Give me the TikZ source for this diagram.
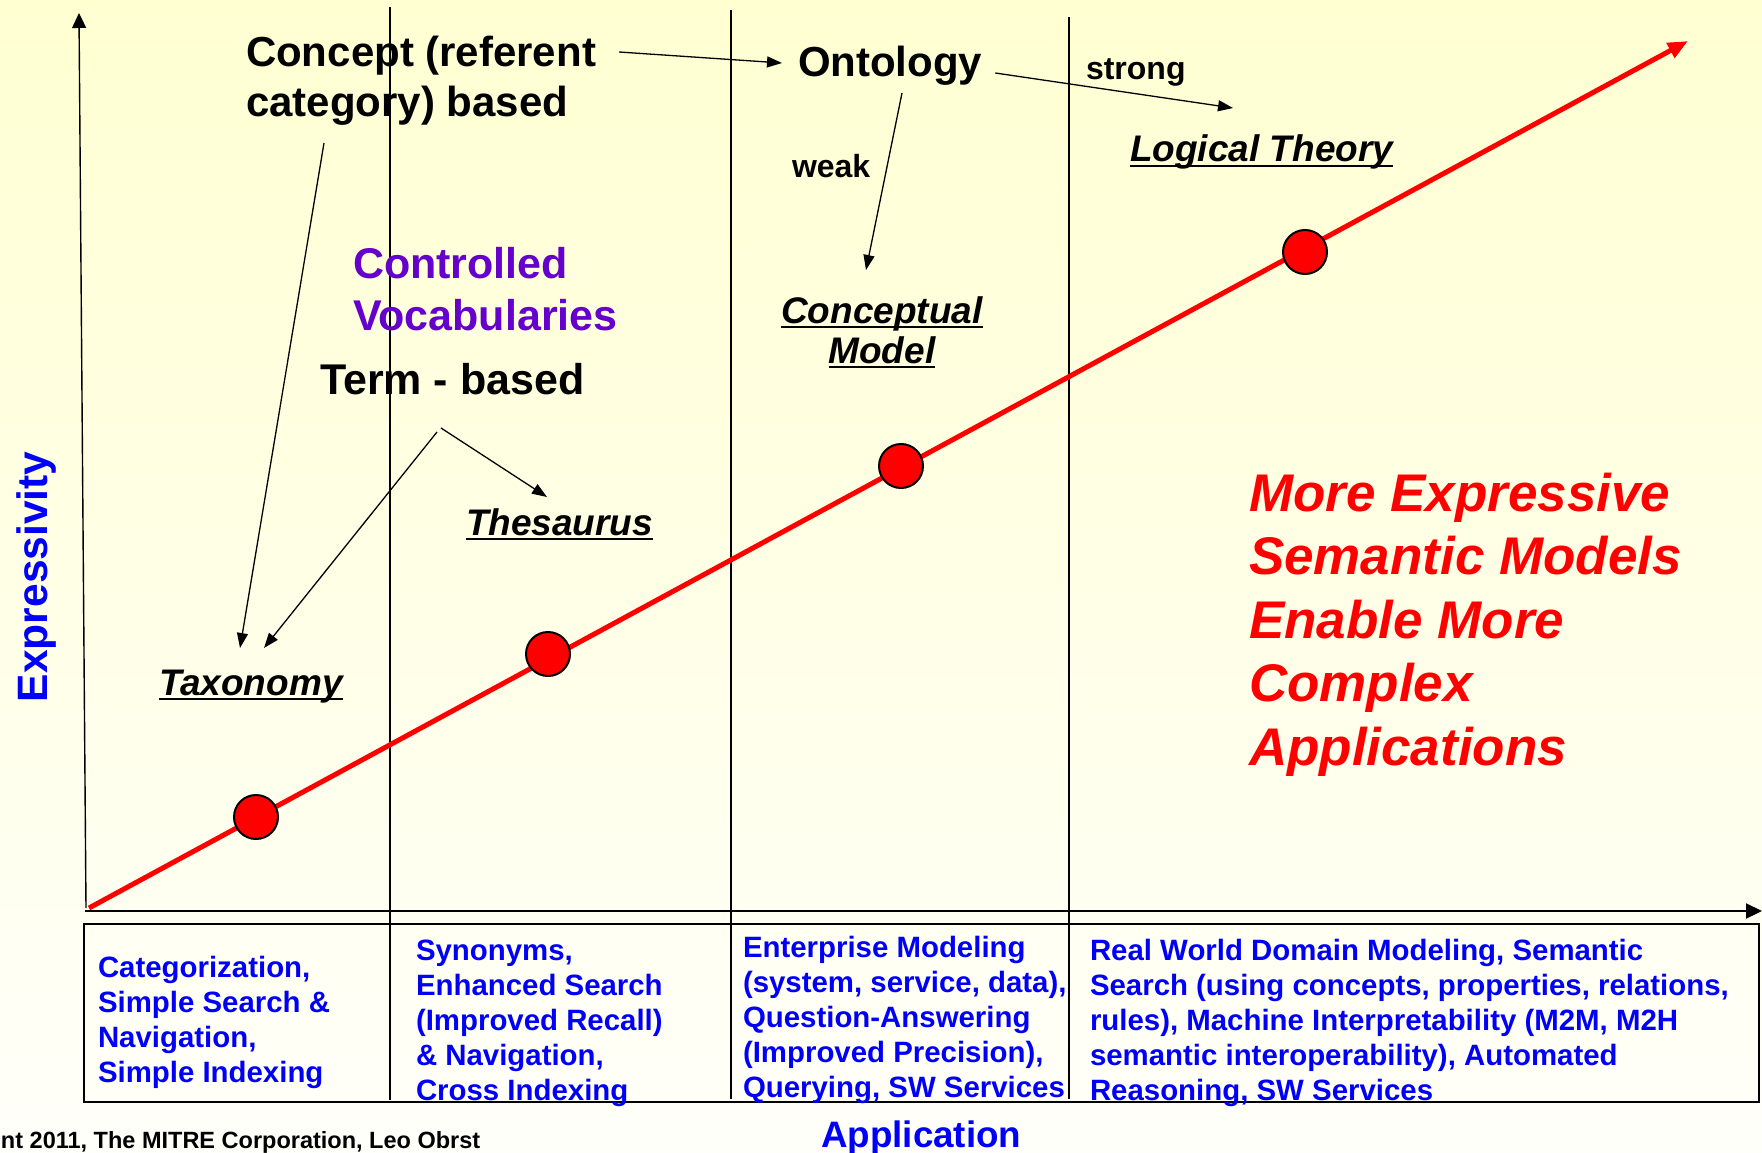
\documentclass[tikz,border=0pt]{standalone}
\usepackage{fontspec}
\setmainfont{Liberation Sans}
\usetikzlibrary{arrows.meta}
\definecolor{bgtop}{RGB}{255,255,210}
\definecolor{bgbot}{RGB}{255,255,250}
\definecolor{myblue}{RGB}{0,0,250}
\definecolor{mypurple}{RGB}{102,0,204}
\definecolor{myred}{RGB}{255,0,0}
\newcommand\ulx[1]{\setbox0=\hbox{#1}\rlap{\rule[-5pt]{\wd0}{2pt}}\box0}
\newcommand\fsz[2]{\fontsize{#1}{#2}\selectfont}
\begin{document}
\begin{tikzpicture}[x=1pt,y=-1pt,
  txt/.style={inner sep=0pt, outer sep=0pt, anchor=base west},
  big/.style={txt, font=\bfseries\fsz{42}{50}},
  small/.style={txt, font=\bfseries\fsz{32}{36}},
  kind/.style={txt, font=\bfseries\itshape\fsz{37}{40}},
  boxtxt/.style={txt, text=myblue, font=\bfseries\fsz{29.4}{35.1}},
  arr/.style={line width=1.3pt, -{Triangle[length=15pt,width=11pt]}},
  divider/.style={line width=1.3pt},
  redline/.style={draw=myred, line width=5pt, -{Triangle[length=20pt,width=16pt]}},
  dot/.style={circle, fill=myred, draw=black, line width=2pt, minimum size=44pt, inner sep=0pt}]
\useasboundingbox (0,0) rectangle (1762,1153);
\shade[top color=bgtop, bottom color=bgbot] (0,0) rectangle (1762,1153);
% dividers
\draw[divider] (390,7) -- (390,1100);
\draw[divider] (731,10) -- (731,1099);
\draw[divider] (1069,17) -- (1069,1099);
% axes
\coordinate (o) at (86,908);
\coordinate (ytop) at (79,13);
\coordinate (xs) at (85,911);
\coordinate (xe) at (1762,911);
\draw[line width=1.4pt, -{Triangle[length=15pt,width=14pt]}] (o) -- (ytop);
\draw[line width=2.2pt, -{Triangle[length=16pt,width=15pt]}] (xs) -- (xe);
% box
\draw[line width=2pt] (84,924) rectangle (1759,1102);
% red line and dots
\coordinate (rs) at (89,908);
\coordinate (re) at (1688,41);
\draw[redline] (rs) -- (re);
\node[dot] (d1) at (256,817) {};
\node[dot] (d2) at (548,654) {};
\node[dot] (d3) at (901,466) {};
\node[dot] (d4) at (1305,252) {};
% texts
\node[big] (concept) at (246,67) {\begin{tabular}[t]{@{}l@{}}Concept (referent\\category) based\end{tabular}};
\node[big] (onto) at (798,77) {Ontology};
\node[small] (strong) at (1086,80) {strong};
\node[small] (weak) at (792,178) {weak};
\node[kind] (logic) at (1130,162) {\ulx{Logical Theory}};
\node[kind, anchor=base] (concm) at (882,323) {\begin{tabular}[t]{@{}c@{}}\ulx{Conceptual}\\\ulx{Model}\end{tabular}};
\node[big, text=mypurple, font=\bfseries\fsz{43}{52}] (cv) at (353,278) {\begin{tabular}[t]{@{}l@{}}Controlled\\Vocabularies\end{tabular}};
\node[big, font=\bfseries\fsz{43}{50}] (term) at (320,394) {Term - based};
\node[kind] (thes) at (466,535) {\ulx{Thesaurus}};
\node[kind] (tax) at (159,695) {\ulx{Taxonomy}};
\node[txt, text=myred, font=\bfseries\itshape\fsz{53}{63.5}] (more) at (1249,511) {\begin{tabular}[t]{@{}l@{}}More Expressive\\Semantic Models\\Enable More\\Complex\\Applications\end{tabular}};
\node[txt, rotate=90, text=myblue, font=\bfseries\fsz{42.5}{50}] (expr) at (47,702) {Expressivity};
\node[txt, text=myblue, font=\bfseries\fsz{36.8}{40}] (appl) at (821,1147) {Application};
\node[txt, font=\bfseries\fsz{23.5}{26}] (copy) at (1,1148) {nt 2011, The MITRE Corporation, Leo Obrst};
% box texts
\node[boxtxt] (col1) at (98,977) {\begin{tabular}[t]{@{}l@{}}Categorization,\\Simple Search \&\\Navigation,\\Simple Indexing\end{tabular}};
\node[boxtxt] (col2) at (416,960) {\begin{tabular}[t]{@{}l@{}}Synonyms,\\Enhanced Search\\(Improved Recall)\\\& Navigation,\\Cross Indexing\end{tabular}};
\node[boxtxt] (col3) at (743,957) {\begin{tabular}[t]{@{}l@{}}Enterprise Modeling\\(system, service, data),\\Question-Answering\\(Improved Precision),\\Querying, SW Services\end{tabular}};
\node[boxtxt] (col4) at (1090,960) {\begin{tabular}[t]{@{}l@{}}Real World Domain Modeling, Semantic\\Search (using concepts, properties, relations,\\rules), Machine Interpretability (M2M, M2H\\semantic interoperability), Automated\\Reasoning, SW Services\end{tabular}};
% connectors
\draw[arr] ([shift={(23,-15)}]concept.base east) -- ([shift={(-16,-14)}]onto.base west);
\draw[arr] ([shift={(13,-4)}]onto.base east) -- ([shift={(103,-54)}]logic.base west);
\draw[arr] ([shift={(104,16)}]onto.base west) -- ([shift={(-16,-53)}]concm.base);
\draw[arr] ([shift={(78,76)}]concept.base west) -- ([shift={(81,-47)}]tax.base west);
\coordinate (tv1) at ([shift={(117,38)}]term.base west);
\coordinate (tv2) at ([shift={(121,34)}]term.base west);
\draw[arr] (tv1) -- ([shift={(105,-47)}]tax.base west);
\draw[arr] (tv2) -- ([shift={(81,-38)}]thes.base west);
\end{tikzpicture}
\end{document}
